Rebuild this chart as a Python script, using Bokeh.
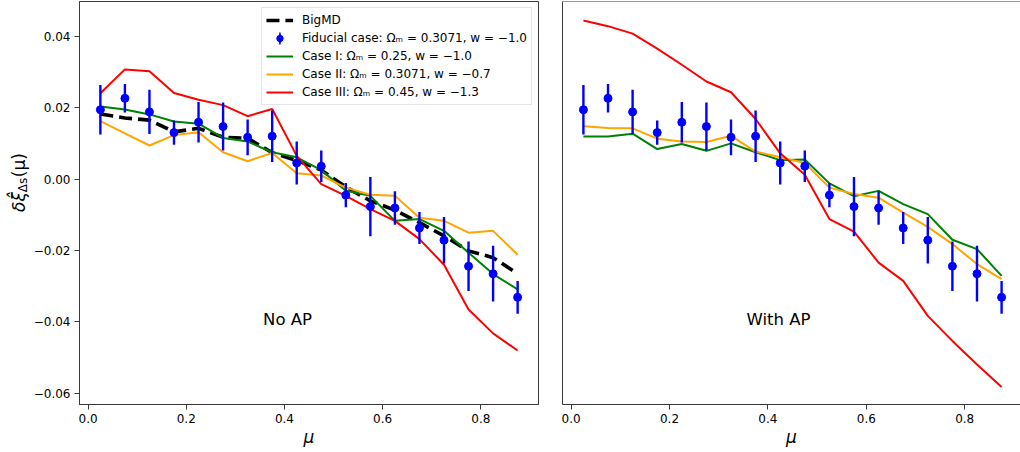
import math

from bokeh.embed import file_html
from bokeh.layouts import row
from bokeh.models import (ColumnDataSource, CustomJSTickFormatter, FixedTicker,
                          Label, Legend, LegendItem, Range1d, Span)
from bokeh.plotting import figure
from bokeh.resources import INLINE

# ---- data -----------------------------------------------------------------
mu = [0.025, 0.075, 0.125, 0.175, 0.225, 0.275, 0.325, 0.375, 0.425,
      0.475, 0.525, 0.575, 0.625, 0.675, 0.725, 0.775, 0.825, 0.875]

# fiducial measurement with 1-sigma errors
fiducial = [0.0194, 0.0226, 0.0188, 0.0130, 0.0159, 0.0147, 0.0117, 0.0120, 0.0045,
            0.0036, -0.0045, -0.0077, -0.0081, -0.0137, -0.0171, -0.0244, -0.0265, -0.0331]
fiducial_err = [0.0069, 0.0040, 0.0062, 0.0034, 0.0057, 0.0067, 0.0050, 0.0072, 0.0060,
                0.0044, 0.0034, 0.0083, 0.0047, 0.0045, 0.0065, 0.0069, 0.0078, 0.0046]

# BigMD reference curve (no AP panel)
bigmd = [0.0182, 0.0171, 0.0165, 0.0132, 0.0142, 0.0117, 0.0114, 0.0074, 0.0052,
         0.0025, -0.0022, -0.0061, -0.0087, -0.0122, -0.0159, -0.0201, -0.0220, -0.0265]

# cosmologies, without AP distortion
noap_case1 = [0.0203, 0.0195, 0.0181, 0.0161, 0.0155, 0.0115, 0.0105, 0.0075, 0.0061,
              0.0025, -0.0033, -0.0047, -0.0117, -0.0112, -0.0145, -0.0206, -0.0266, -0.0309]
noap_case2 = [0.0162, 0.0128, 0.0094, 0.0123, 0.0131, 0.0075, 0.0050, 0.0073, 0.0016,
              0.0010, -0.0024, -0.0044, -0.0047, -0.0108, -0.0117, -0.0150, -0.0145, -0.0212]
noap_case3 = [0.0240, 0.0307, 0.0302, 0.0241, 0.0222, 0.0207, 0.0176, 0.0196, 0.0065,
              -0.0014, -0.0047, -0.0084, -0.0117, -0.0168, -0.0240, -0.0365, -0.0432, -0.0480]

# cosmologies, with AP distortion
ap_case1 = [0.0119, 0.0119, 0.0127, 0.0084, 0.0098, 0.0079, 0.0100, 0.0075, 0.0053,
            0.0055, -0.0012, -0.0048, -0.0033, -0.0070, -0.0098, -0.0170, -0.0196, -0.0271]
ap_case2 = [0.0148, 0.0143, 0.0142, 0.0113, 0.0105, 0.0104, 0.0121, 0.0077, 0.0061,
            0.0045, -0.0024, -0.0042, -0.0052, -0.0094, -0.0134, -0.0182, -0.0238, -0.0280]
ap_case3 = [0.0444, 0.0428, 0.0407, 0.0365, 0.0320, 0.0273, 0.0243, 0.0168, 0.0072,
            0.0012, -0.0112, -0.0147, -0.0234, -0.0285, -0.0383, -0.0453, -0.0519, -0.0582]

x_ticks = [0.0, 0.2, 0.4, 0.6, 0.8]
y_ticks = [-0.06, -0.04, -0.02, 0.0, 0.02, 0.04]

labels = {
    "bigmd": "BigMD",
    "fid": "Fiducial case: \u03a9\u2098 = 0.3071, w = \u22121.0",
    "c1": "Case I: \u03a9\u2098 = 0.25, w = \u22121.0",
    "c2": "Case II: \u03a9\u2098 = 0.3071, w = \u22120.7",
    "c3": "Case III: \u03a9\u2098 = 0.45, w = \u22121.3",
}

# ---- styling ---------------------------------------------------------------
FONT = "DejaVu Sans"
SPINE = "#3a3a3a"
BLUE, GREEN, ORANGE, RED = "#0000ff", "#008000", "#ffa500", "#ff0000"

H = 452
TITLE_W = 30          # strip holding the y-axis title
X0, X1 = -0.0175, 0.9175
Y0, Y1 = -0.0631, 0.0497
FRAME_W = 460
PX_PER_X = FRAME_W / (X1 - X0)

fid_src = ColumnDataSource(dict(
    mu=mu, y=fiducial,
    lo=[v - e for v, e in zip(fiducial, fiducial_err)],
    hi=[v + e for v, e in zip(fiducial, fiducial_err)],
))


def make_panel(width, border_left, border_right, x_end, show_ylabels):
    p = figure(width=width, height=H, output_backend="svg", toolbar_location=None,
               x_range=Range1d(X0, x_end), y_range=Range1d(Y0, Y1),
               min_border_left=border_left, min_border_right=border_right,
               min_border_top=1, min_border_bottom=48)
    p.grid.visible = False
    p.background_fill_color = "white"
    p.border_fill_color = "white"
    p.outline_line_color = SPINE
    p.outline_line_width = 1

    xa = p.xaxis[0]
    xa.ticker = FixedTicker(ticks=x_ticks)
    xa.formatter = CustomJSTickFormatter(code="return tick.toFixed(1);")
    xa.axis_label = "\u03bc"
    xa.axis_label_text_font = FONT
    xa.axis_label_text_font_style = "italic"
    xa.axis_label_text_font_size = "17px"
    xa.axis_label_text_color = "black"
    xa.axis_label_standoff = 1

    ya = p.yaxis[0]
    if show_ylabels:
        ya.ticker = FixedTicker(ticks=y_ticks)
        ya.formatter = CustomJSTickFormatter(code="""
            if (Math.abs(tick) < 1e-9) { return '0.00'; }
            return (tick < 0 ? '\\u2212' : '') + Math.abs(tick).toFixed(2);
        """)
    else:
        ya.ticker = FixedTicker(ticks=[])
        ya.major_tick_out = 0
        ya.major_label_text_font_size = "0px"

    for ax in (xa, ya):
        ax.axis_line_color = SPINE
        ax.axis_line_width = 1
        ax.major_tick_line_color = SPINE
        ax.major_tick_line_width = 1
        ax.major_tick_in = 0
        ax.minor_tick_in = 0
        ax.minor_tick_out = 0
        ax.major_label_text_font = FONT
        ax.major_label_text_color = "black"
        ax.major_label_standoff = 4
    if show_ylabels:
        ya.major_tick_out = 5
        ya.major_label_text_font_size = "12px"
    xa.major_tick_out = 5
    xa.major_label_text_font_size = "12px"
    return p


def add_errorbars(p):
    p.segment(x0="mu", y0="lo", x1="mu", y1="hi", source=fid_src,
              line_color=BLUE, line_width=2.4)
    return p.scatter(x="mu", y="y", source=fid_src, size=8,
                     fill_color=BLUE, line_color=BLUE)


def panel_note(p, text):
    # placed at 40% across / 21% up the axes box
    p.add_layout(Label(x=X0 + 0.4 * (X1 - X0), y=Y0 + 0.21 * (Y1 - Y0), text=text,
                       text_font=FONT, text_font_size="16.5px", text_color="black",
                       text_align="left", text_baseline="alphabetic"))


# ---- y-axis title strip (pixel coordinates, origin bottom-left) ------------------
p0 = figure(width=TITLE_W, height=H, output_backend="svg", toolbar_location=None,
            x_range=Range1d(0, TITLE_W), y_range=Range1d(0, H),
            min_border_left=0, min_border_right=0, min_border_top=0, min_border_bottom=0)
p0.axis.visible = False
p0.grid.visible = False
p0.outline_line_color = None
p0.background_fill_color = "white"
p0.border_fill_color = "white"


def title_piece(text, x, y, size, style="normal"):
    p0.add_layout(Label(x=x, y=y, text=text, angle=math.pi / 2, text_font=FONT,
                        text_font_size=size, text_font_style=style, text_color="black",
                        text_align="left", text_baseline="alphabetic"))


title_piece("\u03b4\u03be\u0302", 18, 216, "17px", "italic")
title_piece("\u0394s", 22, 238, "12px")
title_piece("(\u03bc)", 18, 255, "17px")

# ---- left panel: no AP ---------------------------------------------------------
p1 = make_panel(540 - TITLE_W, 78 - TITLE_W, 2, X1, True)

r_big = p1.line(mu, bigmd, line_color="black", line_width=3.6, line_dash="13 6")
r_c1 = p1.line(mu, noap_case1, line_color=GREEN, line_width=2)
r_c2 = p1.line(mu, noap_case2, line_color=ORANGE, line_width=2)
r_c3 = p1.line(mu, noap_case3, line_color=RED, line_width=2)
r_dot = add_errorbars(p1)

# vertical error-bar icon for the legend entry (not drawn in the plot area)
r_bar_icon = p1.ellipse(x=[math.nan], y=[math.nan], width=2.4, height=12.5,
                        width_units="screen", height_units="screen",
                        fill_color=BLUE, line_color=None)

legend = Legend(items=[
    LegendItem(label=labels["bigmd"], renderers=[r_big]),
    LegendItem(label=labels["fid"], renderers=[r_bar_icon, r_dot]),
    LegendItem(label=labels["c1"], renderers=[r_c1]),
    LegendItem(label=labels["c2"], renderers=[r_c2]),
    LegendItem(label=labels["c3"], renderers=[r_c3]),
], location="top_right")
legend.margin = 6
legend.padding = 4
legend.spacing = 2
legend.glyph_width = 27
legend.glyph_height = 16
legend.label_height = 16
legend.label_standoff = 9
legend.label_text_font = FONT
legend.label_text_font_size = "12px"
legend.label_text_color = "black"
legend.background_fill_color = "white"
legend.background_fill_alpha = 0.8
legend.border_line_color = "#cccccc"
legend.border_line_width = 1
p1.add_layout(legend)

panel_note(p1, "No AP")

# ---- right panel: with AP ------------------------------------------------------
right_frame = 458
p2 = make_panel(22 + right_frame, 22, 0, X0 + right_frame / PX_PER_X, False)
p2.outline_line_color = None
p2.add_layout(Span(location=Y1, dimension="width", line_color=SPINE, line_width=1))

p2.line(mu, ap_case1, line_color=GREEN, line_width=2)
p2.line(mu, ap_case2, line_color=ORANGE, line_width=2)
p2.line(mu, ap_case3, line_color=RED, line_width=2)
add_errorbars(p2)

panel_note(p2, "With AP")

layout = row(p0, p1, p2)
open("out.html", "w").write(file_html(layout, INLINE))
